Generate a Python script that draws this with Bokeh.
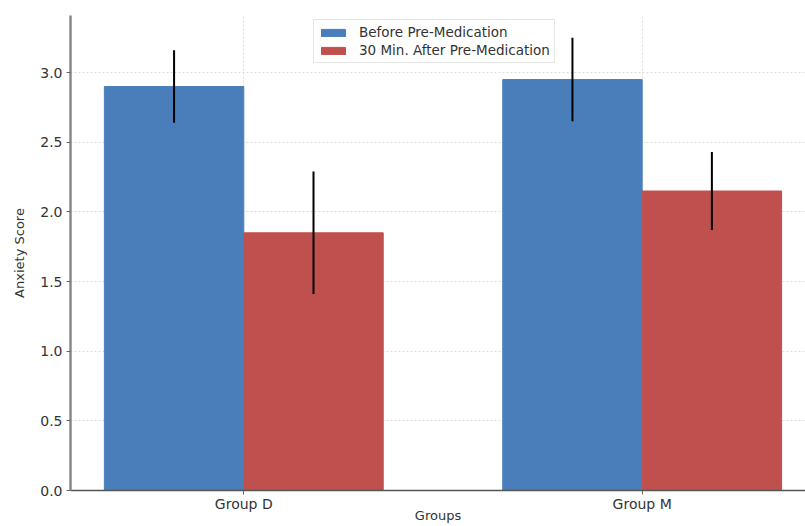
from bokeh.plotting import figure
from bokeh.models import Range1d, FixedTicker, Legend, LegendItem, ColumnDataSource
from bokeh.embed import file_html
from bokeh.resources import INLINE

groups = ["Group D", "Group M"]
before = [2.90, 2.95]
after = [1.85, 2.15]
before_err = [0.26, 0.30]
after_err = [0.44, 0.28]
series_labels = ["Before Pre-Medication", "30 Min. After Pre-Medication"]
y_ticks = [0.0, 0.5, 1.0, 1.5, 2.0, 2.5, 3.0]

BLUE = "#4a7ebb"
RED = "#c0504d"
FONT = "DejaVu Sans"
bw = 0.35

p = figure(width=805, height=526, output_backend="svg", toolbar_location=None,
           x_range=Range1d(-0.435, 1.41), y_range=Range1d(0, 3.41),
           min_border_left=70, min_border_right=0, min_border_top=15, min_border_bottom=36)
p.outline_line_color = None

idx = list(range(len(groups)))
xb = [i - bw / 2 for i in idx]
xa = [i + bw / 2 for i in idx]

src_b = ColumnDataSource(dict(x=xb, top=before,
                              lo=[v - e for v, e in zip(before, before_err)],
                              hi=[v + e for v, e in zip(before, before_err)]))
src_a = ColumnDataSource(dict(x=xa, top=after,
                              lo=[v - e for v, e in zip(after, after_err)],
                              hi=[v + e for v, e in zip(after, after_err)]))

rb = p.vbar(x="x", top="top", width=bw, source=src_b, fill_color=BLUE, line_color=BLUE)
ra = p.vbar(x="x", top="top", width=bw, source=src_a, fill_color=RED, line_color=RED)
p.segment(x0="x", x1="x", y0="lo", y1="hi", source=src_b, line_color="black", line_width=2)
p.segment(x0="x", x1="x", y0="lo", y1="hi", source=src_a, line_color="black", line_width=2)

# axes
p.xaxis.ticker = FixedTicker(ticks=idx)
p.xaxis.major_label_overrides = {i: g for i, g in zip(idx, groups)}
p.yaxis.ticker = FixedTicker(ticks=y_ticks)
p.yaxis.major_label_overrides = {t: f"{t:.1f}" for t in y_ticks}
p.yaxis.major_label_overrides[0] = "0.0"
for ax in (p.xaxis[0], p.yaxis[0]):
    ax.major_label_text_font = FONT
    ax.major_label_text_font_size = "14px"
    ax.major_label_text_color = "#333333"
    ax.minor_tick_line_color = None
    ax.major_tick_in = 0
    ax.major_tick_out = 4
    ax.major_tick_line_color = "#666666"
    ax.axis_label_text_font = FONT
    ax.axis_label_text_font_size = "13px"
    ax.axis_label_text_font_style = "normal"
    ax.axis_label_text_color = "#333333"
p.yaxis.major_label_standoff = 4
p.xaxis.major_label_standoff = 1
p.yaxis.axis_line_color = "#888888"
p.yaxis.axis_line_width = 2.5
p.xaxis.axis_line_color = "#555555"
p.xaxis.axis_line_width = 1.5
p.yaxis.axis_label = "Anxiety Score"
p.yaxis.axis_label_standoff = 10
p.xaxis.axis_label = "Groups"
p.xaxis.axis_label_standoff = -7

p.grid.grid_line_color = "#dddddd"
p.grid.grid_line_dash = "2 2"
p.grid.grid_line_width = 1

legend = Legend(items=[LegendItem(label=series_labels[0], renderers=[rb]),
                       LegendItem(label=series_labels[1], renderers=[ra])],
                location=(243, 427))
legend.label_text_font = FONT
legend.label_text_font_size = "13.5px"
legend.label_text_color = "#333333"
legend.glyph_width = 30
legend.glyph_height = 9
legend.label_standoff = 11
legend.spacing = 2
legend.padding = 4
legend.margin = 0
legend.label_height = 16
legend.border_line_color = "#cccccc"
legend.background_fill_alpha = 0.9
p.add_layout(legend, "center")

open("out.html", "w").write(file_html(p, INLINE))
